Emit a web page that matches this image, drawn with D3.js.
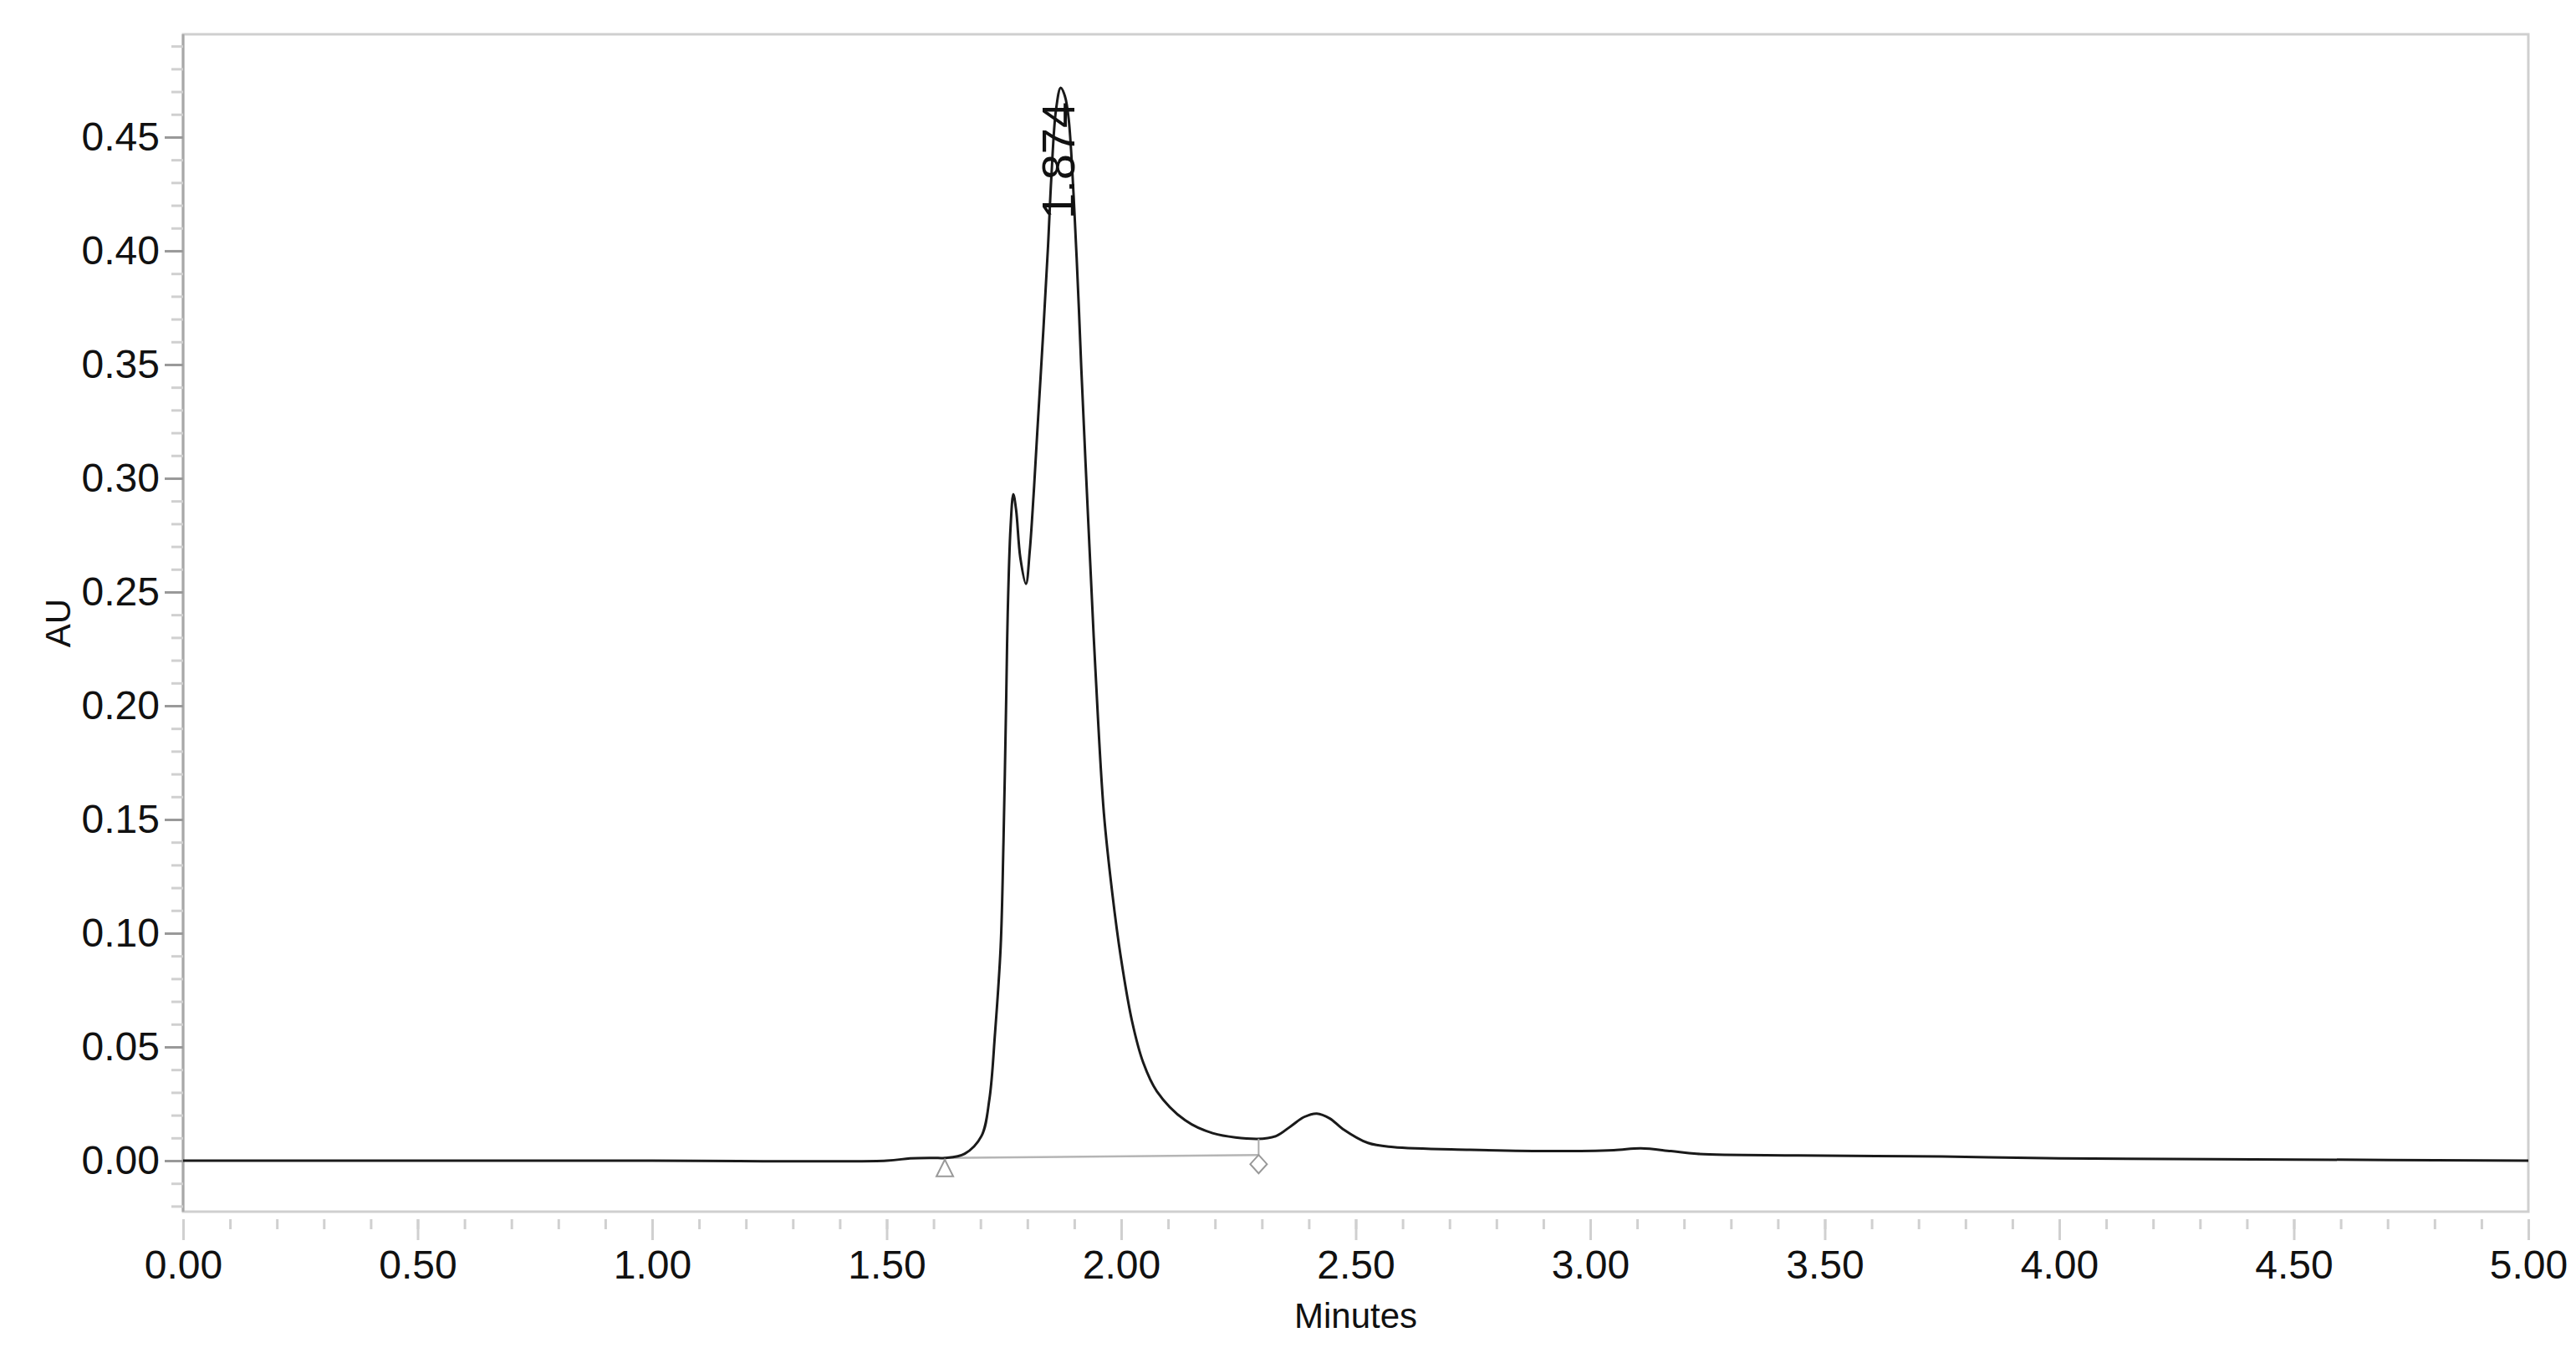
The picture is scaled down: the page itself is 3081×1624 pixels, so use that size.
<!DOCTYPE html>
<html><head><meta charset="utf-8">
<script src="https://cdn.jsdelivr.net/npm/d3@7/dist/d3.min.js"></script>
<style>body{margin:0;background:#fff}text{font-family:"Liberation Sans",Arial,sans-serif;fill:#111}</style>
</head><body>
<svg id="c" width="3081" height="1624"></svg>
<script>
const times = [0,0.25,0.5,1.0,1.5,1.55,1.6,1.624,1.666,1.702,1.719,1.731,1.743,1.749,1.755,1.758,1.764,1.770,1.776,1.785,1.797,1.805,1.813,1.821,1.834,1.844,1.851,1.861,1.871,1.880,1.888,1.905,1.915,1.930,1.945,1.963,1.981,1.999,2.023,2.047,2.076,2.136,2.195,2.290,2.330,2.362,2.390,2.417,2.445,2.472,2.526,2.580,2.744,2.926,3.050,3.108,3.172,3.227,3.443,3.75,4.0,4.5,5.0];
const au    = [0,0,0,0,0,0.0010,0.0012,0.0012,0.003,0.0108,0.027,0.056,0.094,0.140,0.205,0.240,0.278,0.293,0.286,0.265,0.2536,0.268,0.292,0.320,0.365,0.402,0.432,0.462,0.4717,0.468,0.458,0.397,0.348,0.280,0.216,0.153,0.1176,0.0897,0.0614,0.0431,0.0305,0.0178,0.0121,0.0096,0.0108,0.0152,0.0192,0.0207,0.0185,0.014,0.0078,0.006,0.0048,0.0042,0.0046,0.0054,0.0042,0.003,0.0023,0.0018,0.0010,0.0005,0.0];
const xTicks = [0,0.5,1,1.5,2,2.5,3,3.5,4,4.5,5];
const yTicks = [0,0.05,0.10,0.15,0.20,0.25,0.30,0.35,0.40,0.45];
const peakTime = [1.871], peakAU=[0.4717], peakLabel=["1.874"];
const intStart = [1.624, 0.0012], intEnd = [2.293, 0.0025];

const L=219,R=3024,T=41,B=1449;
const svg=d3.select("#c");
const x=d3.scaleLinear().domain([0,5]).range([L,R]);
const y=d3.scaleLinear().domain([-0.02243,0.4952]).range([B,T]);

svg.append("rect").attr("x",L).attr("y",T).attr("width",R-L).attr("height",B-T).attr("fill","none").attr("stroke","#cfcfcf").attr("stroke-width",3);
svg.append("line").attr("x1",L).attr("x2",L).attr("y1",T).attr("y2",B).attr("stroke","#a8a8a8").attr("stroke-width",3);

const yMinor=d3.range(-0.02,0.491,0.01).map(v=>+v.toFixed(2));
const gy=svg.append("g").attr("transform",`translate(${L},0)`);
gy.call(d3.axisLeft(y).tickValues(yMinor).tickSize(14).tickFormat(""));
gy.select(".domain").remove();
gy.selectAll(".tick line").attr("stroke","#d0d0d0").attr("stroke-width",3);
const gy2=svg.append("g").attr("transform",`translate(${L},0)`);
gy2.call(d3.axisLeft(y).tickValues(yTicks).tickSize(22).tickPadding(6).tickFormat(d3.format(".2f")));
gy2.select(".domain").remove();
gy2.selectAll(".tick line").attr("stroke","#999").attr("stroke-width",3);
gy2.selectAll(".tick text").attr("font-size",48).attr("fill","#111").attr("font-family","Liberation Sans, Arial");

const xMinor=d3.range(0,5.001,0.1).map(v=>+v.toFixed(1));
const gx=svg.append("g").attr("transform",`translate(0,${B+9})`);
gx.call(d3.axisBottom(x).tickValues(xMinor).tickSize(12).tickFormat(""));
gx.select(".domain").remove();
gx.selectAll(".tick line").attr("stroke","#d0d0d0").attr("stroke-width",3);
const gx2=svg.append("g").attr("transform",`translate(0,${B+9})`);
gx2.call(d3.axisBottom(x).tickValues(xTicks).tickSize(25).tickPadding(12).tickFormat(d3.format(".2f")));
gx2.select(".domain").remove();
gx2.selectAll(".tick line").attr("stroke","#d0d0d0").attr("stroke-width",3);
gx2.selectAll(".tick text").attr("font-size",48).attr("fill","#111").attr("font-family","Liberation Sans, Arial");

svg.append("text").attr("x",(L+R)/2).attr("y",1588).attr("text-anchor","middle").attr("font-size",42).text("Minutes");
svg.append("text").attr("transform",`translate(84,${(T+B)/2}) rotate(-90)`).attr("text-anchor","middle").attr("font-size",42).text("AU");

svg.append("line").attr("x1",x(intStart[0])).attr("y1",y(intStart[1])).attr("x2",x(intEnd[0])).attr("y2",y(intEnd[1])).attr("stroke","#b5b5b5").attr("stroke-width",2.5);

const data=times.map((t,i)=>[t,au[i]]);
svg.append("path").datum(data).attr("fill","none").attr("stroke","#1a1a1a").attr("stroke-width",3)
  .attr("stroke-linejoin","round").attr("d",d3.line().x(d=>x(d[0])).y(d=>y(d[1])).curve(d3.curveCatmullRom.alpha(0.5)));

const tx=x(intStart[0]), ty=y(intStart[1]);
svg.append("path").attr("d",`M${tx},${ty+2} L${tx-10},${ty+22} L${tx+10},${ty+22} Z`).attr("fill","none").attr("stroke","#999").attr("stroke-width",2);
const dx=x(intEnd[0]), dyb=y(intEnd[1]);
svg.append("line").attr("x1",dx).attr("x2",dx).attr("y1",y(0.0096)).attr("y2",dyb).attr("stroke","#aaa").attr("stroke-width",2);
svg.append("path").attr("d",`M${dx},${dyb} L${dx+10},${dyb+11} L${dx},${dyb+22} L${dx-10},${dyb+11} Z`).attr("fill","none").attr("stroke","#999").attr("stroke-width",2);

svg.append("text").attr("transform",`translate(${x(peakTime[0])+16},${262}) rotate(-90)`).attr("font-size",56).attr("fill","#111").text(peakLabel[0]);
</script>
</body></html>
